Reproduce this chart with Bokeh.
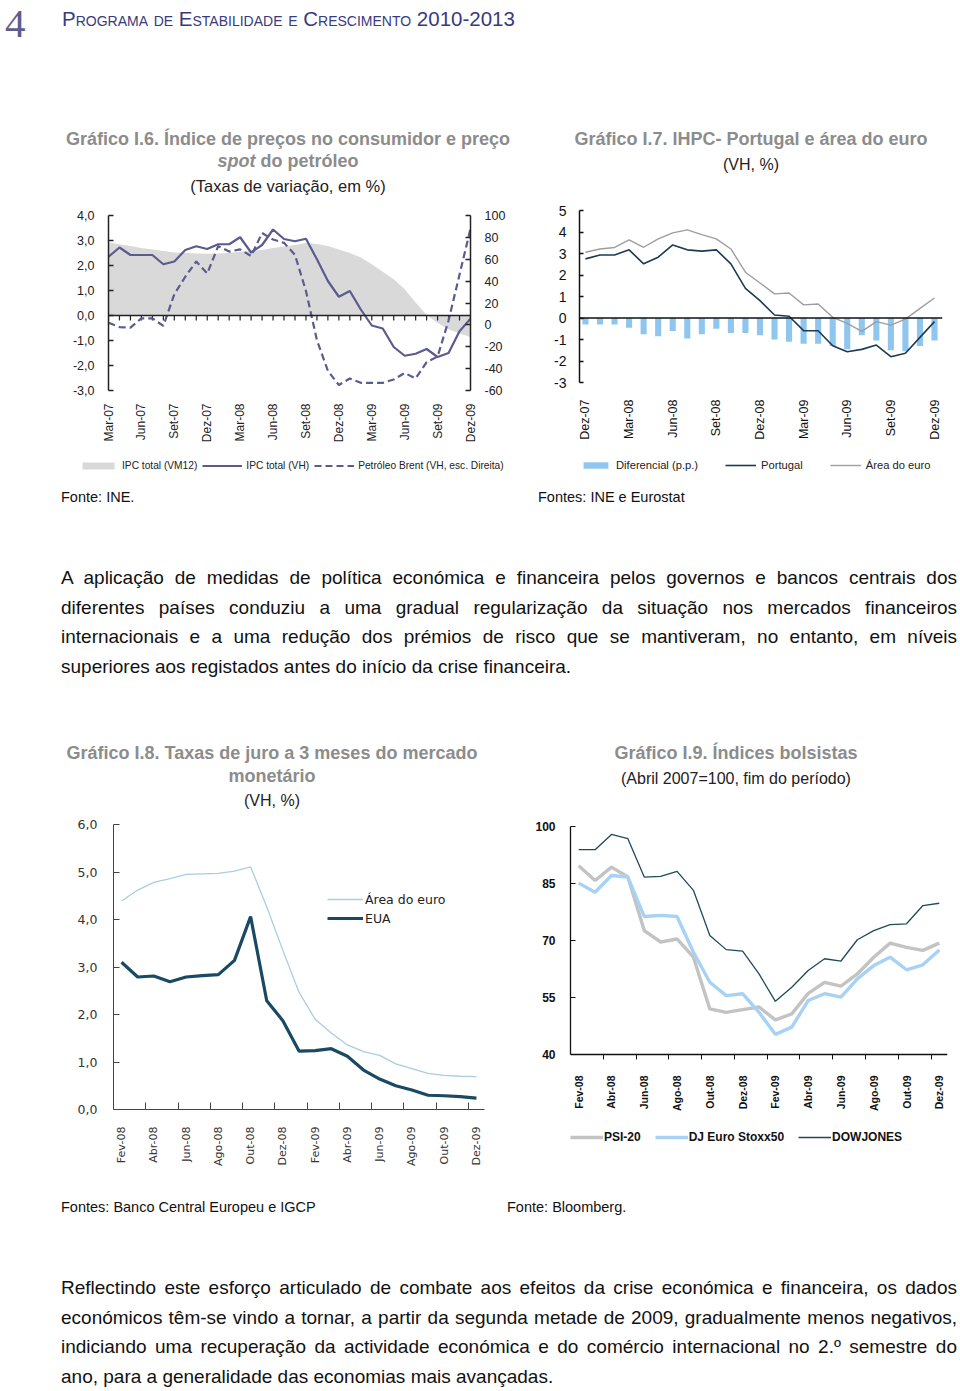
from math import pi
from bokeh.plotting import figure
from bokeh.models import (Range1d, LinearAxis, FixedTicker, Legend, LegendItem,
                          Div, CustomJSTickFormatter)
from bokeh.layouts import column, row
from bokeh.embed import file_html
from bokeh.resources import INLINE

SANS = "Liberation Sans"

# ---------------- Gráfico I.6 (monthly, Mar-07 .. Dez-09) ----------------
ipc_vm12 = [2.93, 2.85, 2.78, 2.70, 2.64, 2.58, 2.52, 2.50, 2.48, 2.47, 2.48, 2.50,
            2.55, 2.58, 2.62, 2.70, 2.76, 2.82, 2.90, 2.86, 2.78, 2.64, 2.50, 2.32,
            2.05, 1.75, 1.45, 1.05, 0.52, 0.02, -0.30, -0.55, -0.72, -0.86]
ipc_vh = [2.35, 2.72, 2.42, 2.42, 2.42, 2.05, 2.16, 2.62, 2.77, 2.66, 2.85, 2.85,
          3.13, 2.52, 2.82, 3.44, 3.06, 2.97, 3.07, 2.25, 1.38, 0.75, 0.98, 0.24,
          -0.40, -0.52, -1.26, -1.61, -1.53, -1.34, -1.66, -1.50, -0.63, -0.13]
brent_vh = [2, -2, -2.5, 6, 6, -1, 28, 44, 58, 47, 72, 67,
            69, 63, 84, 78, 75, 64, 31, -14, -42, -55, -49, -53,
            -53, -53, -50, -44, -49, -34, -29, 4, 46, 88]
labels6 = ["Mar-07", "Jun-07", "Set-07", "Dez-07", "Mar-08", "Jun-08", "Set-08",
           "Dez-08", "Mar-09", "Jun-09", "Set-09", "Dez-09"]

# ---------------- Gráfico I.7 (monthly, Dez-07 .. Dez-09) ----------------
diferencial = [-0.3, -0.3, -0.3, -0.45, -0.75, -0.85, -0.6, -0.95, -0.75, -0.5, -0.7, -0.7,
               -0.8, -1.0, -1.1, -1.2, -1.2, -1.3, -1.45, -0.8, -1.05, -1.5, -1.55, -1.3, -1.05]
ihpc_portugal = [2.75, 2.93, 2.93, 3.17, 2.52, 2.83, 3.40, 3.17, 3.11, 3.17, 2.52, 1.38,
                 0.81, 0.14, 0.08, -0.59, -0.59, -1.29, -1.57, -1.46, -1.26, -1.80, -1.64, -0.90, -0.17]
ihpc_euro = [3.06, 3.21, 3.28, 3.63, 3.29, 3.68, 3.96, 4.10, 3.88, 3.68, 3.21, 2.13,
             1.63, 1.12, 1.16, 0.61, 0.65, 0.03, -0.25, -0.62, -0.17, -0.33, -0.05, 0.45, 0.93]
labels7 = ["Dez-07", "Mar-08", "Jun-08", "Set-08", "Dez-08", "Mar-09", "Jun-09", "Set-09", "Dez-09"]

# ---------------- Gráfico I.8 (monthly, Fev-08 .. Dez-09) ----------------
juro_euro = [4.39, 4.62, 4.78, 4.86, 4.95, 4.96, 4.97, 5.02, 5.11, 4.27, 3.35, 2.47,
             1.90, 1.61, 1.36, 1.22, 1.14, 0.96, 0.86, 0.76, 0.72, 0.70, 0.69]
juro_eua = [3.10, 2.79, 2.81, 2.69, 2.79, 2.82, 2.84, 3.14, 4.06, 2.29, 1.87, 1.23,
            1.24, 1.28, 1.12, 0.83, 0.64, 0.50, 0.41, 0.30, 0.29, 0.27, 0.24]
labels8 = ["Fev-08", "Abr-08", "Jun-08", "Ago-08", "Out-08", "Dez-08",
           "Fev-09", "Abr-09", "Jun-09", "Ago-09", "Out-09", "Dez-09"]

# ---------------- Gráfico I.9 (monthly, Fev-08 .. Dez-09) ----------------
psi20 = [89.7, 85.8, 89.3, 86.7, 72.6, 69.6, 70.4, 65.6, 52.0, 51.1, 51.8, 52.5,
         49.1, 50.7, 56.1, 59.0, 58.0, 61.2, 65.6, 69.3, 68.2, 67.4, 69.3]
eurostoxx50 = [85.1, 82.7, 87.1, 86.7, 76.3, 76.6, 76.3, 66.9, 59.0, 55.5, 56.0, 51.1,
               45.3, 47.2, 54.2, 56.0, 55.1, 59.9, 63.4, 65.6, 62.3, 63.6, 67.5]
dowjones = [93.9, 93.9, 97.9, 96.8, 86.7, 86.9, 88.2, 83.2, 71.3, 67.6, 67.2, 61.2,
            54.0, 57.7, 62.1, 65.2, 64.6, 70.2, 72.6, 74.2, 74.4, 79.2, 79.8]
labels9 = ["Fev-08", "Abr-08", "Jun-08", "Ago-08", "Out-08", "Dez-08",
           "Fev-09", "Abr-09", "Jun-09", "Ago-09", "Out-09", "Dez-09"]


def base_fig(w, h, xr, yr, bl, br, bt, bb, axes=True):
    kw = {} if axes else dict(x_axis_type=None, y_axis_type=None)
    p = figure(width=w, height=h, x_range=xr, y_range=yr, output_backend="svg",
               toolbar_location=None, min_border_left=bl, min_border_right=br,
               min_border_top=bt, min_border_bottom=bb, title=None, **kw)
    if "frame_align" in p.properties():
        p.frame_align = False
    p.outline_line_color = None
    if axes:
        p.xgrid.grid_line_color = None
        p.ygrid.grid_line_color = None
    p.background_fill_color = "white"
    p.border_fill_color = "white"
    return p


def style_axis(ax, size, color="#222", font=SANS, bold=False):
    ax.major_label_text_font = font
    ax.major_label_text_font_size = size
    ax.major_label_text_color = color
    ax.major_label_text_font_style = "bold" if bold else "normal"
    ax.minor_tick_line_color = None


def month_axis(ax, positions, labels, standoff):
    ax.ticker = FixedTicker(ticks=positions)
    ax.major_label_overrides = {int(t): lab for t, lab in zip(positions, labels)}
    ax.major_label_orientation = pi / 2
    ax.major_label_standoff = standoff


def make_legend(items, loc, **kw):
    base = dict(orientation="horizontal", padding=0, margin=0, label_text_font=SANS,
                border_line_color=None, background_fill_alpha=0, label_text_color="#222")
    base.update(kw)
    return Legend(items=[LegendItem(label=l, renderers=[r]) for l, r in items],
                  location=loc, **base)


def legend_strip(w, h, xs, entries, loc, **kw):
    """Key strip placed under a chart: it re-uses the series, viewed outside their span,
    so only the legend swatches show."""
    f = base_fig(w, h, Range1d(xs[0] - 2, xs[0] - 1), Range1d(0, 1), 0, 0, 0, 0, axes=False)
    items = []
    for label, kind, ys, style in entries:
        if kind == "area":
            r = f.varea(x=xs, y1=0, y2=ys, **style)
        elif kind == "bar":
            r = f.vbar(x=xs, top=ys, width=0.42, **style)
        else:
            r = f.line(xs, ys, **style)
        items.append((label, r))
    f.add_layout(make_legend(items, loc, **kw))
    return f


comma1 = CustomJSTickFormatter(code="return tick.toFixed(1).replace('.', ',');")
plain0 = CustomJSTickFormatter(code="return tick.toFixed(0);")
PURPLE = "#5b5b8e"
STY_AREA6 = dict(fill_color="#d9d9d9")
STY_VH6 = dict(line_color=PURPLE, line_width=2.2)
STY_BR6 = dict(line_color=PURPLE, line_width=2.2, line_dash="7 4")
STY_DIF7 = dict(fill_color="#8ec6f0", line_color=None)
STY_EU7 = dict(line_color="#9e9e9e", line_width=1.4)
STY_PT7 = dict(line_color="#1d3b52", line_width=1.6)

# ======================= Figure I.6 =======================
# both charts of row 1 share frame top/bottom; ranges padded so scales match the original
Y6 = (-3, 4)
Y6_TOP = 4.2
B6 = (-60, 100)
B6_TOP = B6[0] + (Y6_TOP - Y6[0]) * (B6[1] - B6[0]) / (Y6[1] - Y6[0])
x6 = list(range(len(ipc_vh)))
p6 = base_fig(530, 252, Range1d(x6[0], x6[-1]), Range1d(Y6[0], Y6_TOP), 108, 60, 10, 62)
p6.extra_y_ranges = {"brent": Range1d(B6[0], B6_TOP)}
p6.varea(x=x6, y1=0, y2=ipc_vm12, **STY_AREA6)
p6.segment(x0=x6, y0=0, x1=x6, y1=-0.2, line_color="#222", line_width=1.2)
p6.line(x6, ipc_vh, **STY_VH6)
p6.line(x6, brent_vh, y_range_name="brent", **STY_BR6)
p6.line(x=[x6[0], x6[-1]], y=[0, 0], line_color="#222", line_width=1.5)
ly = p6.yaxis[0]
ly.ticker = FixedTicker(ticks=list(range(Y6[0], Y6[1] + 1)))
ly.formatter = comma1
ly.bounds = Y6
ry = LinearAxis(y_range_name="brent", ticker=FixedTicker(ticks=list(range(B6[0], B6[1] + 1, 20))),
                formatter=plain0)
ry.bounds = B6
p6.add_layout(ry, "right")
for ax in (ly, ry):
    style_axis(ax, "12.5px")
    ax.axis_line_width = 1.5
    ax.axis_line_color = "#222"
    ax.major_tick_in = 5
    ax.major_tick_out = 0
    ax.major_tick_line_width = 1.5
    ax.major_tick_line_color = "#222"
    ax.major_label_standoff = 14
bx = p6.xaxis[0]
style_axis(bx, "12px")
month_axis(bx, list(range(0, len(x6), 3)), labels6, 13)
bx.axis_line_color = None
bx.major_tick_line_color = None
bx.major_tick_in = 0
bx.major_tick_out = 0

# ======================= Figure I.7 =======================
Y7 = (-3, 5)
PXU7 = 21.5                         # pixels per percentage point
Y7_BOT = Y7[0] - 8 / PXU7
x7 = list(range(len(diferencial)))
X7_START = -0.41
X7_END = x7[-1] + 0.55
p7 = base_fig(430, 252, Range1d(X7_START, X7_END), Range1d(Y7_BOT, Y7[1]), 49, 18, 10, 62)
p7.vbar(x=x7, top=diferencial, width=0.42, **STY_DIF7)
p7.line(x7, ihpc_euro, **STY_EU7)
p7.line(x7, ihpc_portugal, **STY_PT7)
p7.line(x=[X7_START, X7_END], y=[0, 0], line_color="#111", line_width=1.5)
ay7 = p7.yaxis[0]
style_axis(ay7, "14px", "#111")
ay7.ticker = FixedTicker(ticks=list(range(Y7[0], Y7[1] + 1)))
ay7.formatter = plain0
ay7.bounds = Y7
ay7.axis_line_width = 1.5
ay7.axis_line_color = "#111"
ay7.major_tick_in = 4
ay7.major_tick_out = 0
ay7.major_tick_line_width = 1.5
ay7.major_tick_line_color = "#111"
ay7.major_label_standoff = 13
bx7 = p7.xaxis[0]
style_axis(bx7, "12.5px", "#111")
month_axis(bx7, list(range(0, len(x7), 3)), labels7, 9)
bx7.axis_line_color = None
bx7.major_tick_line_color = None
bx7.major_tick_in = 0
bx7.major_tick_out = 0

# legends of row 1 (strip under the charts)
lf6 = legend_strip(530, 28, x6, [("IPC total (VM12)", "area", ipc_vm12, STY_AREA6),
                                 ("IPC total (VH)", "line", ipc_vh, STY_VH6),
                                 ("Petróleo Brent (VH, esc. Direita)", "line", brent_vh, STY_BR6)],
                   (78, 9), glyph_width=40, glyph_height=9, label_height=12,
                   label_standoff=4, spacing=5, label_text_font_size="10.2px")
lf7 = legend_strip(430, 28, x7, [("Diferencial (p.p.)", "bar", diferencial, STY_DIF7),
                                 ("Portugal", "line", ihpc_portugal, STY_PT7),
                                 ("Área do euro", "line", ihpc_euro, STY_EU7)],
                   (50, 9), glyph_width=31, glyph_height=8, label_height=12,
                   label_standoff=5, spacing=27, label_text_font_size="11.2px")

# ======================= Figure I.8 =======================
x8 = list(range(len(juro_euro)))
p8 = base_fig(505, 390, Range1d(-0.5, len(x8) - 0.5), Range1d(0, 6), 113, 21, 12, 93)
r_je = p8.line(x8, juro_euro, line_color="#a9cde4", line_width=1.3)
r_ju = p8.line(x8, juro_eua, line_color="#1a4a63", line_width=3.2)
ay8 = p8.yaxis[0]
style_axis(ay8, "12.5px", "#333", font="DejaVu Sans")
ay8.ticker = FixedTicker(ticks=list(range(0, 7)))
ay8.formatter = comma1
ay8.axis_line_color = "#444"
ay8.major_tick_in = 6
ay8.major_tick_out = 0
ay8.major_tick_line_color = "#444"
ay8.major_label_standoff = 16
bx8 = p8.xaxis[0]
style_axis(bx8, "11px", "#333", font="DejaVu Sans")
pos8 = list(range(0, len(x8), 2))
month_axis(bx8, pos8, labels8, 17)
bx8.ticker = FixedTicker(ticks=pos8, minor_ticks=[t + 1.5 for t in pos8[:-1]])
bx8.axis_line_color = "#444"
bx8.major_tick_in = 0
bx8.major_tick_out = 0
bx8.major_tick_line_color = None
bx8.minor_tick_line_color = "#444"
bx8.minor_tick_in = 7
bx8.minor_tick_out = 0
leg8 = make_legend([("Área do euro", r_je), ("EUA", r_ju)], (214, 182),
                   orientation="vertical", glyph_width=36, glyph_height=18, label_height=18,
                   label_standoff=2, spacing=1, label_text_font="DejaVu Sans",
                   label_text_font_size="12.5px")
p8.add_layout(leg8)

# ======================= Figure I.9 =======================
Y9 = (40, 100)
PX9 = 3.8          # pixels per index point
x9 = list(range(len(psi20)))
p9 = base_fig(455, 390, Range1d(-0.5, len(x9) - 0.5),
              Range1d(Y9[0] - 90 / PX9, Y9[1] + 2 / PX9), 65, 13, 12, 58)
r_psi = p9.line(x9, psi20, line_color="#c3c3c3", line_width=3.4)
r_sx = p9.line(x9, eurostoxx50, line_color="#a8d2f4", line_width=3.4)
r_dj = p9.line(x9, dowjones, line_color="#1d4a5e", line_width=1.3)
ay9 = p9.yaxis[0]
style_axis(ay9, "12px", "#111", bold=True)
ay9.ticker = FixedTicker(ticks=list(range(Y9[0], Y9[1] + 1, 15)))
ay9.formatter = plain0
ay9.bounds = Y9
ay9.axis_line_color = "#111"
ay9.axis_line_width = 1.3
ay9.major_tick_in = 5
ay9.major_tick_out = 0
ay9.major_tick_line_color = "#111"
ay9.major_label_standoff = 15
bx9 = p9.xaxis[0]
style_axis(bx9, "10.5px", "#111", bold=True)
pos9 = list(range(0, len(x9), 2))
month_axis(bx9, pos9, labels9, 16)
bx9.ticker = FixedTicker(ticks=pos9, minor_ticks=[t + 1.5 for t in pos9[:-1]])
bx9.fixed_location = Y9[0]
bx9.axis_line_color = "#111"
bx9.axis_line_width = 1.3
bx9.major_tick_in = 0
bx9.major_tick_out = 0
bx9.major_tick_line_color = None
bx9.minor_tick_line_color = "#111"
bx9.minor_tick_in = 0
bx9.minor_tick_out = 5
leg9 = make_legend([("PSI-20", r_psi), ("DJ Euro Stoxx50", r_sx), ("DOWJONES", r_dj)],
                   (0, 0), glyph_width=33, glyph_height=12, label_height=14,
                   label_standoff=1, spacing=14, label_text_font_size="12px",
                   label_text_font_style="bold", label_text_color="#111")
p9.add_layout(leg9)


# ======================= Text blocks =======================
def tx(oy, x, yc, s, size, color="#111", weight="normal", align="left", w=None,
       family=SANS, extra="", lhf=1.3):
    lh = size * lhf
    top = yc - oy - lh / 2
    if align == "center":
        left = x - w / 2
        wcss = f"width:{w}px;text-align:center;"
    elif align == "justify":
        left = x
        wcss = f"width:{w}px;text-align:justify;text-align-last:justify;"
    else:
        left = x
        wcss = "white-space:nowrap;"
    return (f'<div style="position:absolute;left:{left:.1f}px;top:{top:.1f}px;{wcss}'
            f"font-family:'{family}';font-size:{size}px;line-height:{lh:.1f}px;"
            f'color:{color};font-weight:{weight};{extra}">{s}</div>')


def block(items, w, h):
    html = (f'<div style="position:relative;width:{w}px;height:{h}px;overflow:visible;">'
            + "".join(items) + "</div>")
    return Div(text=html, width=w, height=h, margin=0, styles={"overflow": "visible"})


GRAY = "#8c8c8c"
para1 = ["A aplicação de medidas de política económica e financeira pelos governos e bancos centrais dos",
         "diferentes países conduziu a uma gradual regularização da situação nos mercados financeiros",
         "internacionais e a uma redução dos prémios de risco que se mantiveram, no entanto, em níveis",
         "superiores aos registados antes do início da crise financeira."]
para2 = ["Reflectindo este esforço articulado de combate aos efeitos da crise económica e financeira, os dados",
         "económicos têm-se vindo a tornar, a partir da segunda metade de 2009, gradualmente menos negativos,",
         "indiciando uma recuperação da actividade económica e do comércio internacional no 2.º semestre do",
         "ano, para a generalidade das economias mais avançadas."]

W = 960
oA = 0
itemsA = [
    tx(oA, 5, 23.8, "4", 41, color="#5d5d8c", family="Liberation Serif", lhf=1.15),
    tx(oA, 62, 19, "Programa de Estabilidade e Crescimento 2010-2013", 20.5, color="#3a3a80",
       extra="font-variant:small-caps;"),
    tx(oA, 288, 140, "Gráfico I.6. Índice de preços no consumidor e preço", 18, GRAY, "bold", "center", 500),
    tx(oA, 288, 162, "<i>spot</i> do petróleo", 18, GRAY, "bold", "center", 500),
    tx(oA, 288, 187, "(Taxas de variação, em %)", 16.5, "#222", "normal", "center", 500),
    tx(oA, 751, 140, "Gráfico I.7. IHPC- Portugal e área do euro", 18, GRAY, "bold", "center", 420),
    tx(oA, 751, 165, "(VH, %)", 16, "#222", "normal", "center", 420),
]
divA = block(itemsA, W, 200)

oB = 480
itemsB = [
    tx(oB, 61, 497, "Fonte: INE.", 14.5),
    tx(oB, 538, 497, "Fontes: INE e Eurostat", 14.5),
]
for k, line in enumerate(para1):
    al = "justify" if k < len(para1) - 1 else "left"
    itemsB.append(tx(oB, 61, 578.3 + 29.7 * k, line, 19, "#111", "normal", al, 896))
itemsB += [
    tx(oB, 272, 754, "Gráfico I.8. Taxas de juro a 3 meses do mercado", 18, GRAY, "bold", "center", 460),
    tx(oB, 272, 777, "monetário", 18, GRAY, "bold", "center", 460),
    tx(oB, 272, 801, "(VH, %)", 16, "#222", "normal", "center", 460),
    tx(oB, 736, 754, "Gráfico I.9. Índices bolsistas", 18, GRAY, "bold", "center", 420),
    tx(oB, 736, 779, "(Abril 2007=100, fim do período)", 16, "#222", "normal", "center", 420),
]
divB = block(itemsB, W, 812 - 480)

oC = 1202
itemsC = [
    tx(oC, 61, 1207, "Fontes: Banco Central Europeu e IGCP", 14.5, lhf=1.0),
    tx(oC, 507, 1207, "Fonte: Bloomberg.", 14.5, lhf=1.0),
]
for k, line in enumerate(para2):
    al = "justify" if k < len(para2) - 1 else "left"
    itemsC.append(tx(oC, 61, 1288.3 + 29.6 * k, line, 19, "#111", "normal", al, 896))
divC = block(itemsC, W, 1391 - 1202)

layout = column(divA, row(p6, p7, spacing=0), row(lf6, lf7, spacing=0), divB,
                row(p8, p9, spacing=0), divC, spacing=0)

open("out.html", "w").write(file_html(layout, INLINE))
